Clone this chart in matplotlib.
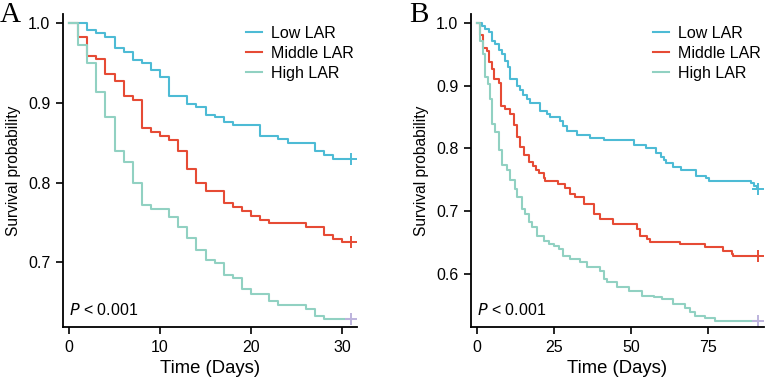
"""
Kaplan-Meier curves by LAR group, 30-day (A) and 90-day (B) survival.
"""
import matplotlib
matplotlib.use('Agg')
import matplotlib.pyplot as plt

plt.rcParams.update({
    'font.family': 'sans-serif', 'font.sans-serif': ['Liberation Sans', 'DejaVu Sans'],
    'font.size': 11.5,
})

groups = ['Low LAR', 'Middle LAR', 'High LAR']
colors = ['#4DBBD5', '#E64B35', '#91D1C2']
censor_colors = ['#4DBBD5', '#E64B35', '#BDB3DD']

# ── Panel A: 30-day (step times in days, survival after step) ──
a_end = 31
a_low_t = [0, 2, 3, 4, 5, 6, 7, 8, 9, 10, 11, 13, 14, 15, 16, 17, 18, 21, 23, 24, 27, 28, 29]
a_low_s = [1.0, 0.991, 0.987, 0.983, 0.968, 0.964, 0.954, 0.950, 0.941, 0.932, 0.909, 0.899,
           0.895, 0.885, 0.882, 0.876, 0.872, 0.858, 0.854, 0.849, 0.840, 0.835, 0.830]
a_mid_t = [0, 1, 2, 3, 4, 5, 6, 7, 8, 9, 10, 11, 12, 13, 14, 15, 17, 18, 19, 20, 21, 22,
           26, 28, 29, 30]
a_mid_s = [1.0, 0.982, 0.959, 0.955, 0.936, 0.927, 0.908, 0.904, 0.868, 0.863, 0.858, 0.853,
           0.840, 0.817, 0.799, 0.789, 0.774, 0.770, 0.765, 0.758, 0.753, 0.749, 0.744,
           0.734, 0.729, 0.725]
a_high_t = [0, 1, 2, 3, 4, 5, 6, 7, 8, 9, 11, 12, 13, 14, 15, 16, 17, 18, 19, 20, 22, 23,
            26, 27, 28]
a_high_s = [1.0, 0.973, 0.950, 0.913, 0.882, 0.840, 0.826, 0.799, 0.772, 0.767, 0.757, 0.744,
            0.730, 0.716, 0.703, 0.699, 0.684, 0.680, 0.667, 0.661, 0.652, 0.647, 0.642,
            0.633, 0.629]

# ── Panel B: 90-day ──
b_end = 91
b_low_t = [0, 1.6, 2.7, 3.8, 4.9, 5.9, 7.0, 8.1, 9.2, 10.0, 10.8, 13.0, 14.0, 15.0, 16.1,
           17.3, 20.5, 22.6, 23.7, 27.0, 27.8, 29.1, 32.4, 36.7, 41.0, 51.0, 54.8, 58.0,
           59.5, 60.5, 61.3, 63.4, 66.0, 70.9, 74.2, 75.2, 88.8, 89.8, 90.8]
b_low_s = [1.0, 0.995, 0.990, 0.985, 0.972, 0.967, 0.957, 0.951, 0.940, 0.930, 0.910, 0.900,
           0.893, 0.885, 0.878, 0.872, 0.860, 0.855, 0.850, 0.843, 0.835, 0.828, 0.822,
           0.817, 0.813, 0.805, 0.800, 0.793, 0.787, 0.782, 0.776, 0.771, 0.766, 0.756,
           0.753, 0.748, 0.744, 0.740, 0.735]
b_mid_t = [0, 1.1, 2.0, 3.2, 3.8, 4.9, 5.6, 7.0, 7.8, 9.2, 10.6, 11.9, 13.0, 13.8, 15.1,
           16.9, 18.0, 19.2, 20.0, 21.6, 22.1, 26.1, 28.6, 30.2, 31.8, 34.5, 37.8, 39.9,
           44.2, 51.8, 52.9, 55.0, 56.1, 65.8, 73.9, 79.8, 82.5, 83.1]
b_mid_s = [1.0, 0.980, 0.960, 0.955, 0.937, 0.926, 0.910, 0.905, 0.868, 0.862, 0.855, 0.837,
           0.818, 0.802, 0.790, 0.778, 0.772, 0.766, 0.760, 0.753, 0.748, 0.743, 0.736,
           0.728, 0.723, 0.712, 0.696, 0.688, 0.680, 0.672, 0.661, 0.656, 0.651, 0.647,
           0.642, 0.637, 0.632, 0.628]
b_high_t = [0, 0.8, 1.8, 2.5, 3.5, 4.1, 4.9, 5.9, 7.0, 8.1, 9.7, 10.8, 12.4, 12.9, 14.6,
            15.6, 16.7, 17.8, 19.4, 21.6, 23.2, 24.8, 26.4, 28.0, 30.2, 33.4, 35.6, 39.9,
            41.0, 42.0, 45.3, 49.1, 53.4, 57.2, 59.9, 63.6, 67.4, 69.0, 70.7, 73.9, 77.1]
b_high_s = [1.0, 0.972, 0.951, 0.914, 0.903, 0.879, 0.839, 0.826, 0.797, 0.773, 0.765, 0.749,
            0.735, 0.723, 0.704, 0.696, 0.683, 0.675, 0.661, 0.653, 0.648, 0.644, 0.640,
            0.629, 0.623, 0.619, 0.611, 0.605, 0.592, 0.587, 0.579, 0.573, 0.565, 0.563,
            0.560, 0.552, 0.545, 0.539, 0.533, 0.529, 0.525]

panels = [
    dict(label='A', end=a_end, curves=[(a_low_t, a_low_s), (a_mid_t, a_mid_s), (a_high_t, a_high_s)],
         xlim=(-0.66, 31.6), ylim=(0.619, 1.011), xticks=[0, 10, 20, 30], yticks=[0.7, 0.8, 0.9, 1.0]),
    dict(label='B', end=b_end, curves=[(b_low_t, b_low_s), (b_mid_t, b_mid_s), (b_high_t, b_high_s)],
         xlim=(-2.0, 93.0), ylim=(0.515, 1.014), xticks=[0, 25, 50, 75], yticks=[0.6, 0.7, 0.8, 0.9, 1.0]),
]

fig = plt.figure(figsize=(7.67, 3.83), dpi=100)
rects = [[0.0821, 0.146, 0.383, 0.817], [0.614, 0.146, 0.382, 0.817]]
label_x = [0.0, 0.533]
legend_x = [246 / 767, 653 / 767]

for p, rect, lx, lgx in zip(panels, rects, label_x, legend_x):
    ax = fig.add_axes(rect)
    for (t, s), c, cc, name in zip(p['curves'], colors, censor_colors, groups):
        tt = list(t) + [p['end']]
        ss = list(s) + [s[-1]]
        ax.step(tt, ss, where='post', color=c, lw=1.5, label=name)
        ax.plot([p['end']], [s[-1]], marker='+', ms=9, mew=1.4, color=cc, ls='none')
    ax.set_xlim(*p['xlim'])
    ax.set_ylim(*p['ylim'])
    ax.set_xticks(p['xticks'])
    ax.set_yticks(p['yticks'])
    ax.set_yticklabels([f'{v:.1f}' for v in p['yticks']])
    ax.spines['top'].set_visible(False)
    ax.spines['right'].set_visible(False)
    ax.spines['left'].set_linewidth(1.3)
    ax.spines['bottom'].set_linewidth(1.3)
    ax.tick_params(direction='out', length=5, width=1.2, labelsize=11.5, colors='black', pad=4)
    ax.set_xlabel('Time (Days)', fontsize=13.3, labelpad=4)
    ax.set_ylabel('Survival probability', fontsize=11.2, labelpad=5)
    ax.text(0.02, 0.055, r'$\it{P}$ < 0.001', transform=ax.transAxes, fontsize=11.5,
            ha='left', va='center')
    ax.legend(loc='upper left', bbox_to_anchor=(lgx, 1 - 26 / 383), bbox_transform=fig.transFigure,
              frameon=False, fontsize=11.5, handlelength=1.0, handletextpad=0.55,
              labelspacing=0.3, borderpad=0, borderaxespad=0)
    fig.text(lx, 0.962, p['label'], fontsize=21, family='Liberation Serif',
             ha='left', va='center')

fig.savefig('out.png', dpi=100)
